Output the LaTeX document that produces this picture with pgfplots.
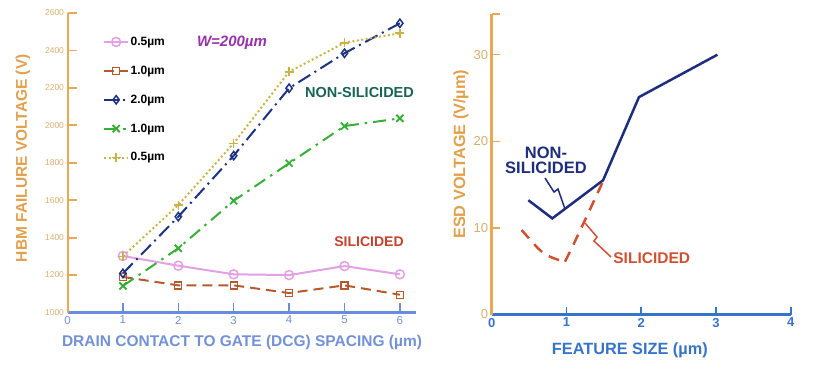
\documentclass[border=0pt]{standalone}
\usepackage{fontspec}
\setmainfont{Liberation Sans}
\usepackage{pgfplots}
\pgfplotsset{compat=1.18}
\definecolor{axorange}{RGB}{232,168,85}
\definecolor{lblorange}{RGB}{225,160,75}
\definecolor{tkorange}{RGB}{215,175,110}
\definecolor{axblue}{RGB}{105,140,220}
\definecolor{lblblue}{RGB}{115,145,215}
\definecolor{rblue}{RGB}{55,115,200}
\definecolor{pinkc}{RGB}{228,160,228}
\definecolor{brownc}{RGB}{180,90,45}
\definecolor{navyc}{RGB}{30,50,130}
\definecolor{greenc}{RGB}{55,175,55}
\definecolor{yellowc}{RGB}{200,180,70}
\definecolor{tealc}{RGB}{25,100,85}
\definecolor{redc}{RGB}{195,65,45}
\definecolor{rredc}{RGB}{208,80,50}
\definecolor{purplec}{RGB}{150,50,170}
\definecolor{rnavy}{RGB}{30,45,125}
\pgfplotsset{
  base/.style={
    scale only axis, clip=false,
    axis x line=bottom, axis y line=left,
    axis line style={-},
    tick align=inside,
    major tick length=9pt,
    /pgf/number format/assume math mode=true,
  },
}
\begin{document}
\begin{tikzpicture}
\path[use as bounding box] (0,0) rectangle (832pt,372pt);
% ---------------- left chart ----------------
\begin{axis}[base,
  at={(67.5pt,59.5pt)}, anchor=south west,
  width=349pt, height=299.5pt,
  xmin=0, xmax=6.3, ymin=1000, ymax=2600,
  xtick={0,1,2,3,4,5,6},
  ytick={1000,1200,1400,1600,1800,2000,2200,2400,2600},
  x axis line style={-, color=axblue, line width=3pt},
  y axis line style={-, color=axorange, line width=2pt},
  x tick style={color=axblue, line width=1.5pt},
  y tick style={color=axorange, line width=1.8pt},
  x tick label style={font=\fontsize{11.5}{12}\selectfont, color=lblblue},
  y tick label style={font=\fontsize{8.5}{9}\selectfont, color=tkorange},
  yticklabel style={/pgf/number format/1000 sep={}},
  xlabel={\bfseries DRAIN CONTACT TO GATE (DCG) SPACING (µm)},
  xlabel style={at={(axis description cs:0.5,0)}, anchor=center, yshift=-29.5pt,
    font=\fontsize{15.5}{18}\selectfont, color=lblblue},
  ylabel={\bfseries HBM FAILURE VOLTAGE (V)},
  ylabel style={at={(axis description cs:-0.128,0.515)}, anchor=center,
    font=\fontsize{15.5}{18}\selectfont, color=lblorange},
  legend style={at={(0.093,0.932)}, anchor=north west, draw=none, fill=none,
    font=\bfseries\fontsize{12}{13}\selectfont, row sep=16pt,
    nodes={inner sep=1.5pt}},
  legend cell align=left,
  legend image code/.code={\draw[mark repeat=2,mark phase=2,#1] plot coordinates {(0pt,0pt) (12pt,0pt) (24pt,0pt)};},
]
\addplot[color=pinkc, line width=2pt, mark=o, mark size=4.5pt, mark options={solid, fill=white, line width=1.5pt}]
  coordinates {(1,1302)(2,1250)(3,1204)(4,1200)(5,1248)(6,1204)};
\addlegendentry{0.5µm}
\addplot[color=brownc, line width=2pt, dash pattern=on 10pt off 6pt, mark=square, mark size=3.5pt, mark options={solid, fill=white, line width=1.3pt}]
  coordinates {(1,1190)(2,1145)(3,1145)(4,1104)(5,1145)(6,1095)};
\addlegendentry{1.0µm}
\addplot[color=navyc, line width=2pt, dash pattern=on 14pt off 5pt on 2pt off 5pt, mark=diamond, mark size=4.2pt, mark options={solid, fill=white, line width=1.5pt}]
  coordinates {(1,1209)(2,1512)(3,1838)(4,2198)(5,2385)(6,2545)};
\addlegendentry{2.0µm}
\addplot[color=greenc, line width=2pt, dash pattern=on 13pt off 6pt on 2.5pt off 6pt, mark=x, mark size=5pt, mark options={solid, line width=1.8pt}]
  coordinates {(1,1142)(2,1343)(3,1597)(4,1797)(5,1996)(6,2037)};
\addlegendentry{1.0µm}
\addplot[color=yellowc, line width=2pt, dash pattern=on 2pt off 2.5pt, mark=+, mark size=4.5pt, mark options={solid, line width=1.5pt}]
  coordinates {(1,1300)(2,1574)(3,1904)(4,2286)(5,2441)(6,2492)};
\addlegendentry{0.5µm}
\end{axis}
% ---------------- right chart ----------------
\begin{axis}[base,
  at={(491.7pt,57.5pt)}, anchor=south west,
  width=299pt, height=300.5pt,
  xmin=0, xmax=4, ymin=0, ymax=34.7,
  xtick={0,1,2,3,4}, ytick={0,10,20,30},
  extra y ticks={34.7}, extra y tick labels={},
  x axis line style={-, color=rblue, line width=2.5pt},
  y axis line style={-, color=axorange, line width=2.5pt},
  x tick style={color=rblue, line width=1.8pt},
  y tick style={color=axorange, line width=1.5pt},
  extra y tick style={tick style={color=axorange, line width=2pt}},
  major tick length=8pt,
  x tick label style={font=\bfseries\fontsize{13}{14}\selectfont, color=rblue},
  y tick label style={font=\fontsize{13}{14}\selectfont, color=tkorange},
  xlabel={\bfseries FEATURE SIZE (µm)},
  xlabel style={at={(axis description cs:0.462,0)}, anchor=center, yshift=-35.5pt,
    font=\fontsize{16.3}{18}\selectfont, color=rblue},
  ylabel={\bfseries ESD VOLTAGE (V/µm)},
  ylabel style={at={(axis description cs:-0.103,0.533)}, anchor=center,
    font=\fontsize{16.3}{18}\selectfont, color=lblorange},
]
\addplot[color=rnavy, line width=2.5pt, line join=miter]
  coordinates {(0.49,13.2)(0.81,11.1)(1.49,15.5)(1.97,25.1)(3.02,30.0)};
\addplot[color=rredc, line width=2.5pt, dash pattern=on 11pt off 8pt, smooth, tension=0.35]
  coordinates {(0.40,9.75)(0.62,7.64)(0.73,6.87)(0.87,6.37)(0.98,6.1)};
\addplot[color=rredc, line width=2.5pt, dash pattern=on 11pt off 8pt]
  coordinates {(0.98,6.1)(1.07,7.64)(1.27,11.3)(1.48,15.2)};
\end{axis}
% ---------------- annotations ----------------
\node[font=\bfseries\itshape\fontsize{15}{16}\selectfont, color=purplec] at (232pt,329pt) {W=200µm};
\node[font=\bfseries\fontsize{14.5}{16}\selectfont, color=tealc] at (359.5pt,279pt) {NON-SILICIDED};
\node[font=\bfseries\fontsize{14}{16}\selectfont, color=redc] at (369pt,130.5pt) {SILICIDED};
\node[font=\bfseries\fontsize{16.5}{17}\selectfont, color=rnavy] at (546pt,218.7pt) {NON-};
\node[font=\bfseries\fontsize{16.5}{17}\selectfont, color=rnavy] at (546pt,203.7pt) {SILICIDED};
\draw[rnavy, line width=1.5pt] (545pt,194pt) -- (554pt,180pt) -- (558pt,183pt) -- (565pt,163pt);
\node[font=\bfseries\fontsize{15.5}{17}\selectfont, color=rredc] at (651.7pt,114pt) {SILICIDED};
\draw[rredc, line width=1.5pt] (585pt,149pt) -- (597pt,135pt) -- (594pt,131pt) -- (611pt,115pt);
\end{tikzpicture}
\end{document}
